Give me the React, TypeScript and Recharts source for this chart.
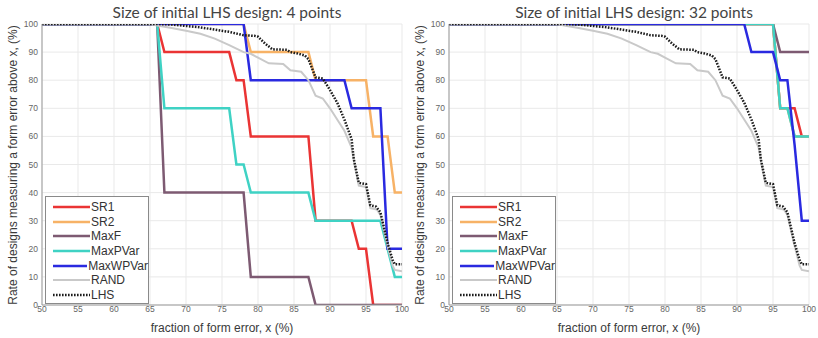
import React from 'react';
import {
  LineChart,
  Line,
  XAxis,
  YAxis,
  CartesianGrid,
  Legend,
} from 'recharts';

type Pt = { x: number; y: number };
const pts = (xs: number[], ys: number[]): Pt[] => xs.map((x, i) => ({ x, y: ys[i] }));

const xTicks = [50, 55, 60, 65, 70, 75, 80, 85, 90, 95, 100];
const yTicks = [0, 10, 20, 30, 40, 50, 60, 70, 80, 90, 100];

// shared baselines (same in both panels)
const randX = [50, 65, 66, 67, 68, 70, 72, 74, 76, 78, 79, 80, 81.5, 83.5, 84.5, 86, 87, 88, 89, 90, 91, 92, 93, 93.4, 94, 95, 95.6, 96.5, 97, 98, 98.7, 99, 100];
const randY = [100, 100, 99.5, 99, 98.6, 97.6, 96.5, 94.8, 92.5, 90, 89.4, 88, 86, 85.8, 83.5, 83, 80, 74.5, 73.5, 70, 66, 62, 56, 50, 42.5, 42, 34.5, 34, 32, 21, 14, 12.5, 12];
const lhsX = [50, 66, 68, 70, 72, 74, 76, 78, 79.5, 80, 81, 82, 84, 84.5, 85.5, 86.5, 87, 88, 89, 90, 91, 92, 93, 93.3, 94, 95, 95.6, 96.4, 97, 98, 98.7, 99, 100];
const lhsY = [100, 100, 99.8, 99.3, 98.8, 98, 97.2, 96, 95.8, 95.5, 93, 91, 90.8, 90, 89.5, 88.8, 87.5, 81, 80.6, 76.5, 72, 66, 59, 52, 43.5, 43, 35.5, 35, 33, 22, 16, 14.5, 14.5];

// 4 points panel
const sr1X4 = [50, 66, 67, 76, 77, 78, 79, 87, 88, 93, 94, 95, 96, 100];
const sr1Y4 = [100, 100, 90, 90, 80, 80, 60, 60, 30, 30, 20, 20, 0, 0];
const sr2X4 = [50, 78, 79, 87, 88, 95, 96, 98, 99, 100];
const sr2Y4 = [100, 100, 90, 90, 80, 80, 60, 60, 40, 40];
const maxfX4 = [50, 66, 67, 78, 79, 87, 88, 100];
const maxfY4 = [100, 100, 40, 40, 10, 10, 0, 0];
const pvarX4 = [50, 66, 67, 76, 77, 78, 79, 87, 88, 97, 98, 99, 100];
const pvarY4 = [100, 100, 70, 70, 50, 50, 40, 40, 30, 30, 20, 10, 10];
const wpvarX4 = [50, 78, 79, 92, 93, 97, 98, 100];
const wpvarY4 = [100, 100, 80, 80, 70, 70, 20, 20];

// 32 points panel
const sr1X32 = [50, 95, 96, 98, 99, 100];
const sr1Y32 = [100, 100, 70, 70, 60, 60];
const sr2X32 = [50, 95, 96, 97, 98, 100];
const sr2Y32 = [100, 100, 70, 70, 60, 60];
const maxfX32 = [50, 95, 96, 100];
const maxfY32 = [100, 100, 90, 90];
const pvarX32 = [50, 95, 96, 97, 98, 100];
const pvarY32 = [100, 100, 70, 70, 60, 60];
const wpvarX32 = [50, 91, 92, 95, 96, 97, 98, 99, 100];
const wpvarY32 = [100, 100, 90, 90, 80, 80, 57, 30, 30];

const seriesNames = ['SR1', 'SR2', 'MaxF', 'MaxPVar', 'MaxWPVar', 'RAND', 'LHS'];
const colors: Record<string, string> = {
  SR1: '#ea3434',
  SR2: '#f7b266',
  MaxF: '#7d5a72',
  MaxPVar: '#3fd2c4',
  MaxWPVar: '#2a2ae0',
  RAND: '#c9c9c9',
  LHS: '#1c1c1c',
};

const panels = [
  {
    title: 'Size of initial LHS design: 4 points',
    series: {
      SR1: pts(sr1X4, sr1Y4),
      SR2: pts(sr2X4, sr2Y4),
      MaxF: pts(maxfX4, maxfY4),
      MaxPVar: pts(pvarX4, pvarY4),
      MaxWPVar: pts(wpvarX4, wpvarY4),
      RAND: pts(randX, randY),
      LHS: pts(lhsX, lhsY),
    } as Record<string, Pt[]>,
  },
  {
    title: 'Size of initial LHS design: 32 points',
    series: {
      SR1: pts(sr1X32, sr1Y32),
      SR2: pts(sr2X32, sr2Y32),
      MaxF: pts(maxfX32, maxfY32),
      MaxPVar: pts(pvarX32, pvarY32),
      MaxWPVar: pts(wpvarX32, wpvarY32),
      RAND: pts(randX, randY),
      LHS: pts(lhsX, lhsY),
    } as Record<string, Pt[]>,
  },
];

const dashFor = (n: string) => (n === 'LHS' ? '1.6 1.4' : undefined);
const widthFor = (n: string) => (n === 'RAND' ? 2 : 2.5);

const LegendBox = () => (
  <div
    style={{
      width: 104,
      height: 108,
      border: '1px solid #8a8a8a',
      background: '#fff',
      boxSizing: 'border-box',
      padding: '3px 0 0 7px',
      fontFamily: '"Liberation Sans", Arial, sans-serif',
      fontSize: 12,
      color: '#333',
    }}
  >
    {seriesNames.map((n) => (
      <div key={n} style={{ display: 'flex', alignItems: 'center', height: 14.6 }}>
        <svg width={37} height={6} style={{ marginRight: 1 }}>
          <line x1={0} y1={3} x2={37} y2={3} stroke={colors[n]} strokeWidth={widthFor(n)} strokeDasharray={dashFor(n)} />
        </svg>
        <span>{n}</span>
      </div>
    ))}
  </div>
);

const tickStyle = { fontSize: 8.5, fill: '#666', fontFamily: '"Liberation Sans", Arial, sans-serif' };
const labelStyle: React.CSSProperties = {
  position: 'absolute',
  fontFamily: '"Liberation Sans", Arial, sans-serif',
  fontSize: 12,
  color: '#3a3a3a',
  whiteSpace: 'nowrap',
};

const Panel = ({ title, series, left, width }: { title: string; series: Record<string, Pt[]>; left: number; width: number }) => (
  <div style={{ position: 'absolute', left, top: 0, width, height: 338 }}>
    <div
      style={{
        position: 'absolute',
        left: 42,
        width: 370,
        top: 3,
        textAlign: 'center',
        fontFamily: 'Lato, sans-serif',
        fontSize: 15.5,
        color: '#444',
      }}
    >
      {title}
    </div>
    <div style={{ ...labelStyle, left: 42, width: 360, top: 321, textAlign: 'center' }}>fraction of form error, x (%)</div>
    <div
      style={{
        ...labelStyle,
        left: 13,
        top: 165,
        transform: 'translate(-50%, -50%) rotate(-90deg)',
      }}
    >
      Rate of designs measuring a form error above x, (%)
    </div>
    <LineChart width={width} height={338} margin={{ top: 24, right: width - 402, bottom: 21, left: 0 }}>
      <CartesianGrid stroke="#e9e9e9" strokeWidth={1} />
      <XAxis
        type="number"
        dataKey="x"
        domain={[50, 100]}
        ticks={xTicks}
        allowDataOverflow
        tick={tickStyle}
        tickLine={false}
        tickSize={0}
        tickMargin={1}
        axisLine={{ stroke: '#9a9a9a' }}
        height={12}
      />
      <XAxis xAxisId="top" orientation="top" type="number" domain={[50, 100]} tick={false} tickLine={false} axisLine={{ stroke: '#9a9a9a' }} height={0} />
      <YAxis
        type="number"
        dataKey="y"
        domain={[0, 100]}
        ticks={yTicks}
        allowDataOverflow
        tick={tickStyle}
        tickLine={false}
        tickSize={0}
        tickMargin={4}
        axisLine={{ stroke: '#9a9a9a' }}
        width={42}
      />
      <YAxis yAxisId="right" orientation="right" type="number" domain={[0, 100]} tick={false} tickLine={false} axisLine={{ stroke: '#9a9a9a' }} width={0} />
      {seriesNames.map((n) => (
        <Line
          key={n}
          data={series[n]}
          dataKey="y"
          type="linear"
          stroke={colors[n]}
          strokeWidth={widthFor(n)}
          strokeDasharray={dashFor(n)}
          dot={false}
          isAnimationActive={false}
        />
      ))}
      <Legend
        layout="horizontal"
        verticalAlign="middle"
        align="center"
        content={() => <LegendBox />}
        wrapperStyle={{ left: 45, top: 196, width: 104, height: 108 }}
      />
    </LineChart>
  </div>
);

export default function App() {
  return (
    <div style={{ position: 'relative', width: 818, height: 338, background: '#fff', overflow: 'hidden' }}>
      <style>{'body{margin:0}'}</style>
      <Panel title={panels[0].title} series={panels[0].series} left={0} width={409} />
      <Panel title={panels[1].title} series={panels[1].series} left={407} width={411} />
    </div>
  );
}
